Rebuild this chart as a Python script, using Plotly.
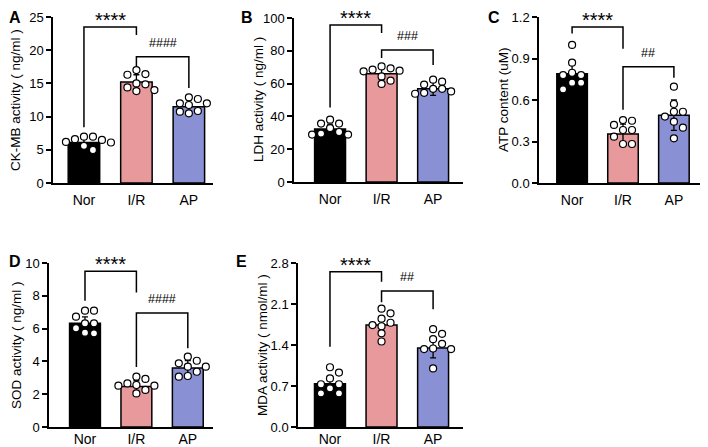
import plotly.graph_objects as go

groups = ["Nor", "I/R", "AP"]
bar_colors = ["#000000", "#E8999B", "#8A90D4"]

# A - CK-MB
ckmb_nor = [6.97, 6.1, 6.48, 4.97, 6.6, 5.6, 6.97, 6.18]
ckmb_ir = [16.4, 15.0, 13.85, 14.4, 17.0, 16.3, 14.86, 14.0]
ckmb_ap = [12.65, 11.75, 10.5, 12.0, 10.84, 12.9, 12.0, 10.74]
ckmb_mean = [6.1, 15.2, 11.5]
ckmb_sd = [0.7, 1.1, 1.0]

# B - LDH
ldh_nor = [32.9, 28.9, 35.6, 30.5, 35.6, 28.9, 38.0, 29.5]
ldh_ir = [68.5, 69.3, 70.5, 67.5, 67.9, 64.4, 61.8, 59.8]
ldh_ap = [62.4, 59.4, 56.8, 54.4, 55.2, 61.2, 56.8, 53.8]
ldh_mean = [32.3, 66.0, 56.8]
ldh_sd = [3.0, 3.6, 4.0]

# C - ATP
atp_nor = [0.998, 0.87, 0.797, 0.78, 0.78, 0.725, 0.725, 0.677]
atp_ir = [0.45, 0.455, 0.42, 0.383, 0.383, 0.335, 0.282, 0.282]
atp_ap = [0.696, 0.515, 0.571, 0.515, 0.48, 0.443, 0.40, 0.323]
atp_mean = [0.79, 0.355, 0.49]
atp_sd = [0.095, 0.07, 0.11]

# D - SOD
sod_nor = [7.09, 7.09, 6.32, 6.73, 6.32, 5.71, 5.75, 6.02]
sod_ir = [2.52, 3.07, 2.93, 2.56, 2.66, 2.52, 2.05, 2.26]
sod_ap = [4.29, 4.04, 3.68, 3.88, 3.68, 3.07, 3.11, 3.37]
sod_mean = [6.32, 2.47, 3.6]
sod_sd = [0.4, 0.35, 0.45]

# E - MDA
mda_nor = [1.02, 0.93, 0.83, 0.73, 0.73, 0.66, 0.575, 0.575]
mda_ir = [2.02, 1.94, 1.85, 1.74, 1.72, 1.78, 1.60, 1.46]
mda_ap = [1.67, 1.59, 1.50, 1.42, 1.34, 1.33, 1.33, 1.0]
mda_mean = [0.74, 1.74, 1.35]
mda_sd = [0.12, 0.1, 0.17]

# brackets: (top, left leg end, right leg end)
ckmb_br = [(23.5, 8.4, 22.3), (19.0, 17.6, 14.3)]
ldh_br = [(95.7, 45.5, 90.8), (80.5, 75.6, 71.3)]
atp_br = [(1.128, 1.08, 0.97), (0.84, 0.53, 0.76)]
sod_br = [(9.5, 7.7, 8.2), (6.95, 3.66, 4.8)]
mda_br = [(2.65, 1.37, 2.48), (2.32, 2.13, 2.01)]

ckmb_sig = ["****", "####"]
ldh_sig = ["****", "###"]
atp_sig = ["****", "##"]
sod_sig = ["****", "####"]
mda_sig = ["****", "##"]

panels = [
    dict(letter="A", pts=[ckmb_nor, ckmb_ir, ckmb_ap], mean=ckmb_mean, sd=ckmb_sd, br=ckmb_br, sig=ckmb_sig,
         title="CK-MB activity ( ng/ml )", ymax=25, dtick=5, fmt="", px=(53, 213, 17, 183), xr=[-0.59, 2.46],
         tx=15, lx=3),
    dict(letter="B", pts=[ldh_nor, ldh_ir, ldh_ap], mean=ldh_mean, sd=ldh_sd, br=ldh_br, sig=ldh_sig,
         title="LDH activity ( ng/ml )", ymax=100, dtick=20, fmt="", px=(294, 463, 18, 182), xr=[-0.70, 2.58],
         tx=258, lx=240),
    dict(letter="C", pts=[atp_nor, atp_ir, atp_ap], mean=atp_mean, sd=atp_sd, br=atp_br, sig=atp_sig,
         title="ATP content (uM)", ymax=1.2, dtick=0.3, fmt=".1f", px=(539, 707, 17, 183), xr=[-0.65, 2.65],
         tx=503, lx=487),
    dict(letter="D", pts=[sod_nor, sod_ir, sod_ap], mean=sod_mean, sd=sod_sd, br=sod_br, sig=sod_sig,
         title="SOD activity ( ng/ml )", ymax=10, dtick=2, fmt="", px=(49, 213, 263, 427), xr=[-0.70, 2.49],
         tx=16, lx=8),
    dict(letter="E", pts=[mda_nor, mda_ir, mda_ap], mean=mda_mean, sd=mda_sd, br=mda_br, sig=mda_sig,
         title="MDA activity ( nmol/ml )", ymax=2.8, dtick=0.7, fmt=".1f", px=(298, 463, 263, 427), xr=[-0.62, 2.58],
         tx=262, lx=235),
]

# page body has an 8px margin, so the figure is made smaller and positions shifted
OFF = 8
W, H = 708 - OFF, 447 - OFF
FONT = "Liberation Sans, Arial, sans-serif"


def swarm(vals, center, xpx, ypx, diam=7.0, step=9.0):
    # simple beeswarm so the dots don't sit on each other
    placed = []
    xs = [center] * len(vals)
    order = sorted(range(len(vals)), key=lambda k: -vals[k])
    for k in order:
        yk = vals[k] * ypx
        j = 0
        while True:
            off = ((j + 1) // 2) * step * (1 if j % 2 else -1)
            if all((off - a) ** 2 + (yk - b) ** 2 >= diam ** 2 for a, b in placed):
                break
            j += 1
        placed.append((off, yk))
        xs[k] = center + off / xpx
    return xs


fig = go.Figure()
annotations = []
shapes = []

for i, p in enumerate(panels):
    n = "" if i == 0 else str(i + 1)
    xa, ya = "x" + n, "y" + n
    x0, x1, y0, y1 = [v - OFF for v in p["px"]]
    xpx = (x1 - x0) / (p["xr"][1] - p["xr"][0])
    ypx = (y1 - y0) / p["ymax"]

    fig.add_trace(go.Bar(
        x=[0, 1, 2], y=p["mean"], width=0.6,
        marker=dict(color=bar_colors, line=dict(color="black", width=1.5)),
        error_y=dict(type="data", array=p["sd"], color="black", thickness=1.3, width=3),
        xaxis=xa, yaxis=ya, showlegend=False, hoverinfo="skip"))

    for g in range(3):
        vals = p["pts"][g]
        fig.add_trace(go.Scatter(
            x=swarm(vals, g, xpx, ypx), y=vals, mode="markers",
            marker=dict(size=7, color="white", line=dict(color="black", width=1.2)),
            xaxis=xa, yaxis=ya, showlegend=False, hoverinfo="skip"))

    fig.layout["xaxis" + n] = dict(
        domain=[x0 / W, min(x1 / W, 1)], range=p["xr"], anchor=ya, automargin=False,
        tickvals=[0, 1, 2], ticktext=groups, ticks="",
        ticklabelstandoff=3 if i < 3 else -2,
        showline=True, linecolor="black", linewidth=1.5,
        showgrid=False, zeroline=False,
        tickfont=dict(size=14, color="black", family=FONT))
    fig.layout["yaxis" + n] = dict(
        domain=[1 - y1 / H, 1 - y0 / H], range=[0, p["ymax"]], anchor=xa, automargin=False,
        dtick=p["dtick"], tickformat=p["fmt"],
        ticks="outside", ticklen=5, tickwidth=1.5, tickcolor="black",
        showline=True, linecolor="black", linewidth=1.5,
        showgrid=False, zeroline=False,
        tickfont=dict(size=13, color="black", family=FONT))

    # y title
    annotations.append(dict(x=(p["tx"] - OFF) / W, y=1 - (y0 + y1) / 2 / H, xref="paper", yref="paper",
                            text=p["title"], textangle=-90, showarrow=False,
                            xanchor="center", yanchor="middle",
                            font=dict(size=13.5, color="black", family=FONT)))

    # significance brackets
    for b, (top, lft, rgt) in enumerate(p["br"]):
        xl, xr_ = b, b + 1
        shapes.append(dict(type="path", xref=xa, yref=ya,
                           path=f"M {xl},{lft} L {xl},{top} L {xr_},{top} L {xr_},{rgt}",
                           line=dict(color="black", width=1.5)))
        annotations.append(dict(x=b + 0.5, y=top, xref=xa, yref=ya, text=p["sig"][b],
                                showarrow=False, yanchor="bottom",
                                yshift=-6 if b == 0 else 5,
                                font=dict(size=20 if b == 0 else 12.5, color="black", family=FONT)))

    # panel letter
    if i < 3:
        ly, yanc = 0, "top"
    else:
        ly, yanc = 261 - OFF, "middle"
    annotations.append(dict(x=max(p["lx"] - OFF, 0) / W, y=1 - ly / H, xref="paper", yref="paper",
                            text="<b>" + p["letter"] + "</b>", borderpad=0,
                            showarrow=False, xanchor="left", yanchor=yanc,
                            font=dict(size=16, color="black", family=FONT)))

fig.update_layout(
    width=W, height=H,
    margin=dict(l=0, r=0, t=0, b=0),
    paper_bgcolor="white", plot_bgcolor="white",
    font=dict(family=FONT, color="black"),
    barmode="overlay",
    shapes=shapes, annotations=annotations)

fig.write_html("out.html")
